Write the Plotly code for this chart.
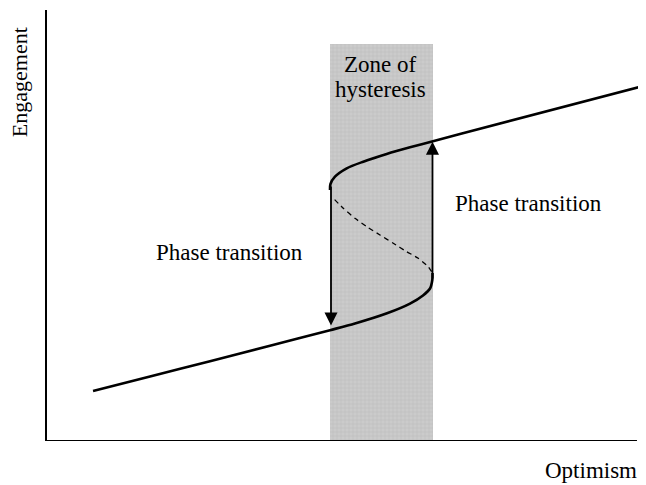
import plotly.graph_objects as go

# Stable lower branch (optimism, engagement)
lower_x = [0.780, 1.746, 2.763, 3.780, 4.797, 5.220, 5.763, 6.153, 6.373, 6.492, 6.531, 6.534]
lower_y = [1.160, 1.497, 1.852, 2.211, 2.571, 2.726, 2.963, 3.188, 3.376, 3.538, 3.735, 3.898]
# Unstable middle branch (dashed)
middle_x = [6.520, 6.463, 6.293, 6.097, 5.869, 5.644, 5.419, 5.220, 5.022, 4.853]
middle_y = [3.928, 4.044, 4.239, 4.392, 4.587, 4.780, 4.972, 5.167, 5.399, 5.631]
# Stable upper branch
upper_x = [4.797, 4.805, 4.881, 5.080, 5.361, 5.758, 6.153, 6.542, 7.000, 10.102]
upper_y = [5.824, 5.963, 6.132, 6.327, 6.480, 6.659, 6.814, 6.956, 7.121, 8.237]

# Zone of hysteresis
zone_left, zone_right, zone_top = 4.797, 6.551, 9.211
# Phase transitions (x, from y, to y)
jump_down = (4.814, 5.940, 2.680)
jump_up = (6.534, 3.735, 6.944)

X_MAX, Y_MAX = 10.153, 10.0
FONT = "Liberation Serif, Times New Roman, serif"

fig = go.Figure()
fig.add_trace(go.Bar(
    x=[(zone_left + zone_right) / 2], y=[zone_top], width=[zone_right - zone_left],
    marker=dict(color="#c6c6c6", line=dict(width=0),
                pattern=dict(shape="+", fgcolor="#ababab", bgcolor="#cbcbcb", size=4, solidity=0.25)),
    hoverinfo="skip", showlegend=False))
fig.add_trace(go.Scatter(x=lower_x, y=lower_y, mode="lines",
                         line=dict(color="black", width=2.6, shape="spline", smoothing=0.8), showlegend=False))
fig.add_trace(go.Scatter(x=middle_x, y=middle_y, mode="lines",
                         line=dict(color="black", width=1.3, dash="5px,4px", shape="spline", smoothing=0.4),
                         showlegend=False))
fig.add_trace(go.Scatter(x=upper_x, y=upper_y, mode="lines",
                         line=dict(color="black", width=2.6, shape="spline", smoothing=0.8), showlegend=False))

for (xx, y0, y1) in [jump_down, jump_up]:
    fig.add_annotation(x=xx, y=y1, ax=xx, ay=y0, xref="x", yref="y", axref="x", ayref="y",
                       text="", showarrow=True, arrowhead=2, arrowsize=1.45, arrowwidth=1.8,
                       arrowcolor="black", standoff=0, startstandoff=0)


def label(x, y, text, angle=0, size=23):
    fig.add_annotation(x=x / X_MAX, y=y / Y_MAX, xref="paper", yref="paper", text=text, textangle=angle,
                       xanchor="center", yanchor="middle", showarrow=False, borderpad=0,
                       font=dict(family=FONT, size=size, color="black"))


label(5.661, 8.747, "Zone of")
label(5.661, 8.167, "hysteresis")
label(3.085, 4.385, "Phase transition")
label(8.153, 5.522, "Phase transition")
label(9.22, -0.673, "Optimism")
label(-0.455, 8.33, "Engagement", angle=-90, size=22)

# x axis line
fig.add_shape(type="line", x0=0, x1=10, y0=0, y1=0, xref="x", yref="y", line=dict(color="black", width=2))

fig.update_xaxes(range=[0, X_MAX], showgrid=False, zeroline=False, showticklabels=False, ticks="",
                 showline=False)
fig.update_yaxes(range=[0, Y_MAX], showgrid=False, zeroline=False, showticklabels=False, ticks="",
                 showline=True, linecolor="black", linewidth=2)
fig.update_layout(width=638, height=477, margin=dict(l=39, r=0, t=2, b=44),
                  plot_bgcolor="white", paper_bgcolor="white", bargap=0)
fig.write_html("out.html")
